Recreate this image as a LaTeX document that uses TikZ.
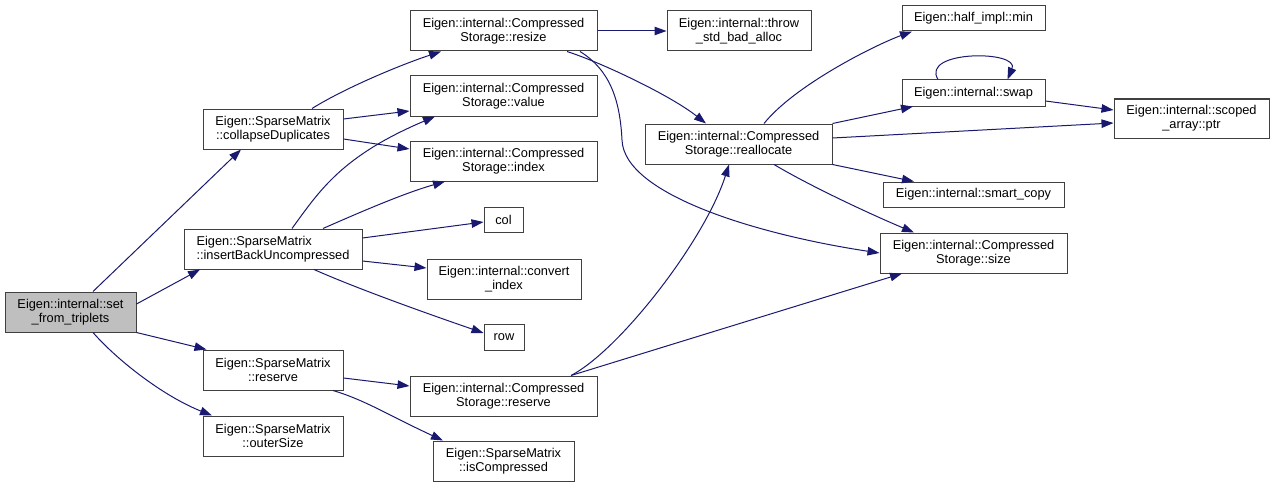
\documentclass[tikz,border=0pt]{standalone}
\usepackage{fontspec}
\setmainfont{Liberation Sans}
\usetikzlibrary{arrows.meta}
\definecolor{edgeblue}{HTML}{191970}
\definecolor{nodeline}{HTML}{404040}
\definecolor{rootfill}{HTML}{BFBFBF}
\tikzset{
  box/.style={draw=nodeline, line width=1pt, fill=white, inner sep=0pt, align=center,
    font=\fontsize{12.8}{14}\selectfont},
  edge/.style={draw=edgeblue, line width=1pt, -{Triangle[length=12pt,width=8.5pt]}, fill=none},
}
\begin{document}
\begin{tikzpicture}[x=1pt,y=-1pt]
\useasboundingbox (0,0) rectangle (1275,487);
% column 1
\node[box, fill=rootfill, minimum width=131pt, minimum height=40pt] (trip) at (70.5,312) {Eigen::internal::set\\\_from\_triplets};
% column 2
\node[box, minimum width=140pt, minimum height=40pt] (coll) at (273,129) {Eigen::SparseMatrix\\::collapseDuplicates};
\node[box, align=left, minimum width=178pt, minimum height=40pt] (ins) at (273,249) {Eigen::SparseMatrix\\::insertBackUncompressed};
\node[box, minimum width=140pt, minimum height=40pt] (smres) at (273,370) {Eigen::SparseMatrix\\::reserve};
\node[box, minimum width=140pt, minimum height=40pt] (outer) at (273,436) {Eigen::SparseMatrix\\::outerSize};
% column 3
\node[box, minimum width=187pt, minimum height=40pt] (resize) at (503.5,31) {Eigen::internal::Compressed\\Storage::resize};
\node[box, minimum width=187pt, minimum height=40pt] (value) at (503.5,96) {Eigen::internal::Compressed\\Storage::value};
\node[box, minimum width=187pt, minimum height=40pt] (index) at (503.5,161) {Eigen::internal::Compressed\\Storage::index};
\node[box, minimum width=39pt, minimum height=25pt] (col) at (503.5,219.5) {col};
\node[box, minimum width=154pt, minimum height=40pt] (conv) at (504,279) {Eigen::internal::convert\\\_index};
\node[box, minimum width=40pt, minimum height=26pt] (row) at (504,337) {row};
\node[box, minimum width=187pt, minimum height=40pt] (csres) at (503.5,396) {Eigen::internal::Compressed\\Storage::reserve};
\node[box, minimum width=141pt, minimum height=40pt] (iscomp) at (503.5,461) {Eigen::SparseMatrix\\::isCompressed};
% column 4
\node[box, minimum width=144pt, minimum height=40pt] (throw) at (739,31) {Eigen::internal::throw\\\_std\_bad\_alloc};
\node[box, minimum width=187pt, minimum height=40pt] (realloc) at (738.5,144) {Eigen::internal::Compressed\\Storage::reallocate};
% column 5
\node[box, minimum width=143pt, minimum height=25pt] (min) at (973.5,18.5) {Eigen::half\_impl::min};
\node[box, minimum width=143pt, minimum height=26pt] (swap) at (973.5,93) {Eigen::internal::swap};
\node[box, minimum width=181pt, minimum height=25pt] (smart) at (973.5,194.5) {Eigen::internal::smart\_copy};
\node[box, minimum width=187pt, minimum height=40pt] (size) at (973.5,253) {Eigen::internal::Compressed\\Storage::size};
% column 6
\node[box, minimum width=155pt, minimum height=39pt] (ptr) at (1191.5,118.5) {Eigen::internal::scoped\\\_array::ptr};

% edges from set_from_triplets
\draw[edge] ([xshift=22.5pt]trip.north) -- ([xshift=-32pt]coll.south);
\draw[edge] ([yshift=8pt]trip.east) -- ([xshift=-73pt]ins.south);
\draw[edge] (trip.south east) -- ([xshift=4pt]smres.north west);
\draw[edge] ([xshift=22.5pt]trip.south) .. controls (117,360) and (163,396) .. ([xshift=-61pt]outer.north);
% collapseDuplicates
\draw[edge] ([xshift=39pt]coll.north) .. controls (345,88) and (400,65) .. ([xshift=-62.5pt]resize.south);
\draw[edge] ([yshift=10pt]coll.east) -- ([yshift=-15pt]value.west);
\draw[edge] ([yshift=-10pt]coll.east) -- ([yshift=12pt]index.west);
% insertBackUncompressed
\draw[edge] ([xshift=19pt]ins.north) .. controls (320,190) and (342,156) .. ([xshift=-68.5pt]value.south);
\draw[edge] ([xshift=50pt]ins.north) .. controls (365,210) and (405,193) .. ([xshift=-58.5pt]index.south);
\draw[edge] ([yshift=11pt]ins.east) -- ([yshift=-2.5pt]col.west);
\draw[edge] ([yshift=-12pt]ins.east) -- ([yshift=11pt]conv.west);
\draw[edge] ([xshift=41pt]ins.south) .. controls (360,290) and (440,318) .. ([yshift=4pt]row.west);
% SparseMatrix::reserve
\draw[edge] ([yshift=-8pt]smres.east) -- ([yshift=10pt]csres.west);
\draw[edge] ([xshift=60pt]smres.south) .. controls (365,400) and (390,416) .. ([xshift=-60.5pt]iscomp.north);
% resize
\draw[edge] (resize.east) -- (throw.west);
\draw[edge] ([xshift=63.5pt]resize.south) .. controls (600,62) and (670,95) .. ([xshift=-32.5pt]realloc.north);
\draw[edge] ([xshift=76.5pt]resize.south) .. controls (610,70) and (620,100) .. (622,140)
   .. controls (624,195) and (760,235) .. (size.west);
% CompressedStorage::reserve
\draw[edge] ([xshift=67.5pt]csres.north) .. controls (620,350) and (705,240) .. ([xshift=-9.5pt]realloc.south);
\draw[edge] ([xshift=67.5pt]csres.north) -- ([xshift=-71.5pt]size.south);
% reallocate
\draw[edge] ([xshift=25.5pt]realloc.north) .. controls (795,85) and (875,45) .. ([xshift=-61.5pt]min.south);
\draw[edge] (realloc.north east) -- ([xshift=-60.5pt]swap.south);
\draw[edge] ([yshift=6pt]realloc.east) -- ([yshift=-4.5pt]ptr.west);
\draw[edge] (realloc.south east) -- ([xshift=-59.5pt]smart.north);
\draw[edge] ([xshift=35.5pt]realloc.south) .. controls (810,186) and (870,214) .. ([xshift=-59.5pt]size.north);
% swap
\draw[edge] ([xshift=-35.5pt]swap.north) .. controls (920,50) and (1020,50) .. ([xshift=34pt]swap.north);
\draw[edge] ([yshift=-8pt]swap.east) -- ([yshift=8.5pt]ptr.west);
\end{tikzpicture}
\end{document}
